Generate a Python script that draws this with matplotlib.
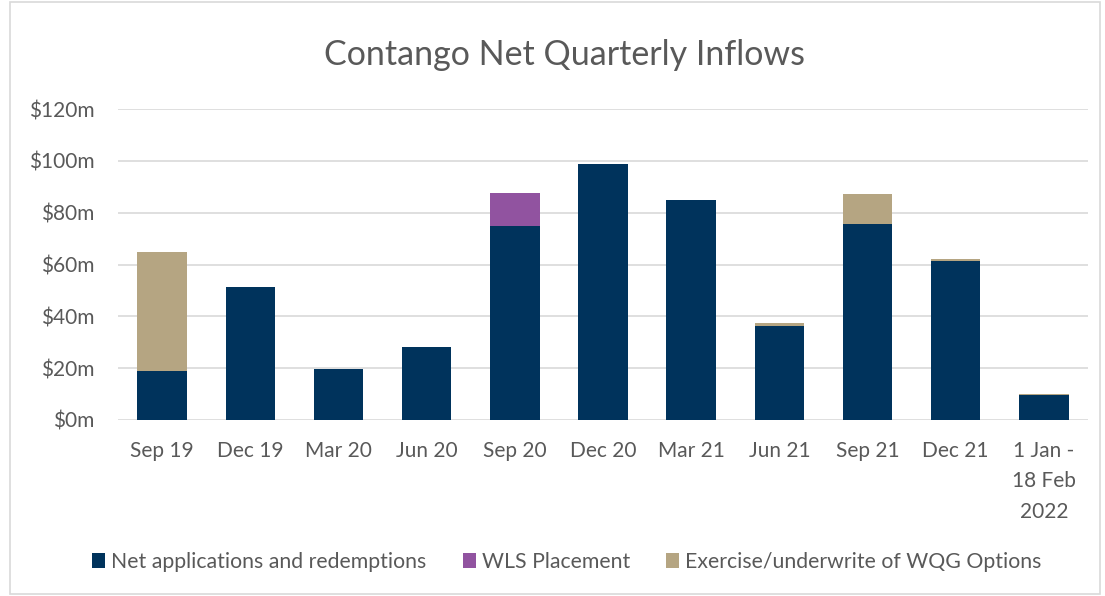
import matplotlib
matplotlib.use("Agg")
import matplotlib.pyplot as plt
from matplotlib.patches import Rectangle
import numpy as np

categories = ["Sep 19", "Dec 19", "Mar 20", "Jun 20", "Sep 20", "Dec 20",
              "Mar 21", "Jun 21", "Sep 21", "Dec 21", "1 Jan -\n18 Feb\n2022"]
net_apps = [18.9, 51.3, 19.7, 28.2, 74.8, 98.8, 84.8, 36.4, 75.7, 61.5, 9.6]
wls_placement = [0, 0, 0, 0, 12.8, 0, 0, 0, 0, 0, 0]
wqg_options = [46.0, 0, 0, 0, 0, 0, 0, 1.1, 11.4, 0.6, 0.5]
series_names = ["Net applications and redemptions", "WLS Placement",
                "Exercise/underwrite of WQG Options"]
yticks = [0, 20, 40, 60, 80, 100, 120]
ytick_labels = ["$0m", "$20m", "$40m", "$60m", "$80m", "$100m", "$120m"]

colors = ["#00335C", "#9153A0", "#B5A582"]
text_color = "#595959"
plt.rcParams['font.family'] = ['Lato', 'DejaVu Sans']

fig = plt.figure(figsize=(11.05, 5.96), dpi=100)
ax = fig.add_axes([118/1105, 1-420/596, (1088-118)/1105, (420-109)/596])

x = np.arange(len(categories))
w = 0.56
net = np.array(net_apps)
wls = np.array(wls_placement)
wqg = np.array(wqg_options)
ax.bar(x, net, w, color=colors[0], label=series_names[0], zorder=3)
ax.bar(x, wls, w, bottom=net, color=colors[1], label=series_names[1], zorder=3)
ax.bar(x, wqg, w, bottom=net + wls, color=colors[2], label=series_names[2], zorder=3)

ax.set_xlim(-0.5, len(categories) - 0.5)
ax.set_ylim(0, 120)
ax.set_yticks(yticks)
ax.set_yticklabels(ytick_labels)
ax.set_xticks(x)
ax.set_xticklabels(categories, va="top", linespacing=1.65)
ax.tick_params(axis="both", length=0, labelsize=15, colors=text_color)
ax.tick_params(axis="y", pad=17)
ax.tick_params(axis="x", pad=15)
ax.grid(axis="y", color="#D9D9D9", linewidth=1.2, zorder=0)
for s in ax.spines.values():
    s.set_visible(False)

fig.text(565/1105, 1-55/596, "Contango Net Quarterly Inflows", ha="center",
         va="center", fontsize=24.5, color=text_color)

leg = fig.legend(loc="center", bbox_to_anchor=(567/1105, 1-562/596), ncol=3,
                 frameon=False, fontsize=15.3, handlelength=0.6, handleheight=0.65,
                 handletextpad=0.3, columnspacing=1.7)
for t in leg.get_texts():
    t.set_color(text_color)

fig.patches.append(Rectangle((10/1105, 2/596), 1090/1105, 592/596,
                             transform=fig.transFigure, fill=False,
                             edgecolor="#D9D9D9", linewidth=1.2))

fig.savefig("out.png", dpi=100, facecolor="white")
